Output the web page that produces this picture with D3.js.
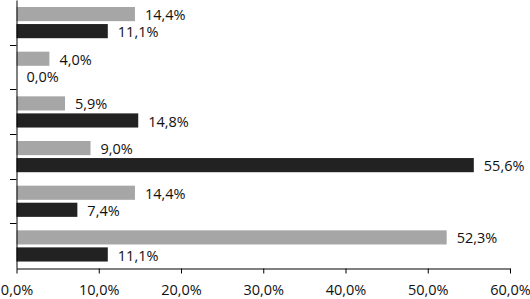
<!DOCTYPE html>
<html>
<head>
<meta charset="utf-8">
<script src="https://cdn.jsdelivr.net/npm/d3@7"></script>
<style>
  body { margin: 0; background: #fff; }
  svg { display: block; }
</style>
</head>
<body>
<div id="chart"></div>
<script>
// categories have no visible labels in the source chart
const categories = ["c1", "c2", "c3", "c4", "c5", "c6"];
const seriesNames = ["gray", "black"];
const grayValues = [14.4, 4.0, 5.9, 9.0, 14.4, 52.3];
const blackValues = [11.1, 0.0, 14.8, 55.6, 7.4, 11.1];
const xTicks = [0, 10, 20, 30, 40, 50, 60];

const width = 530, height = 299;
const margin = {top: 0, right: 20, bottom: 31, left: 16};
const colors = {gray: "#a6a6a6", black: "#222222"};
const fmt = v => v.toFixed(1).replace(".", ",") + "%";
const fontSize = 14.5;

const svg = d3.select("#chart").append("svg")
    .attr("width", width)
    .attr("height", height)
    .attr("font-family", "'Open Sans', sans-serif");

const x = d3.scaleLinear()
    .domain([0, 60])
    .range([margin.left + 0.5, 510]);

const y = d3.scaleBand()
    .domain(categories)
    .range([margin.top, height - margin.bottom]);

const inner = d3.scaleBand()
    .domain(seriesNames)
    .range([7, 38.2])
    .paddingInner(0.17);

const rows = categories.map((c, i) => ({
  cat: c,
  vals: [
    {key: "gray", v: grayValues[i]},
    {key: "black", v: blackValues[i]}
  ]
}));

const g = svg.selectAll("g.cat")
  .data(rows)
  .join("g")
    .attr("class", "cat")
    .attr("transform", d => `translate(0,${y(d.cat)})`);

g.selectAll("rect")
  .data(d => d.vals)
  .join("rect")
    .attr("x", x(0))
    .attr("y", d => inner(d.key))
    .attr("width", d => x(d.v) - x(0))
    .attr("height", inner.bandwidth())
    .attr("fill", d => colors[d.key]);

g.selectAll("text")
  .data(d => d.vals)
  .join("text")
    .attr("x", d => x(d.v) + 10)
    .attr("y", d => inner(d.key) + inner.bandwidth() / 2 + 1)
    .attr("dy", "0.35em")
    .attr("font-size", fontSize)
    .attr("fill", "#111")
    .text(d => fmt(d.v));

// x axis
const xAxis = svg.append("g")
    .attr("transform", `translate(0,${height - margin.bottom + 0.5})`)
    .call(d3.axisBottom(x).tickValues(xTicks).tickSize(5).tickSizeOuter(0).tickFormat(fmt));
xAxis.select(".domain").attr("stroke", "#000");
xAxis.selectAll(".tick line").attr("stroke", "#000");
xAxis.selectAll(".tick text")
    .attr("font-size", fontSize)
    .attr("font-family", "'Open Sans', sans-serif")
    .attr("fill", "#111")
    .attr("y", 26)
    .attr("dy", 0);

// y axis (no labels)
const yAxis = svg.append("g")
    .attr("transform", `translate(${margin.left + 0.5},0)`)
    .call(d3.axisLeft(y).tickValues([]).tickSizeOuter(0));
yAxis.select(".domain").attr("stroke", "#000");

svg.append("g").selectAll("line")
  .data(categories.slice(1))
  .join("line")
    .attr("x1", margin.left - 6)
    .attr("x2", margin.left + 0.5)
    .attr("y1", d => Math.round(y(d)) + 0.5)
    .attr("y2", d => Math.round(y(d)) + 0.5)
    .attr("stroke", "#000");
</script>
</body>
</html>
